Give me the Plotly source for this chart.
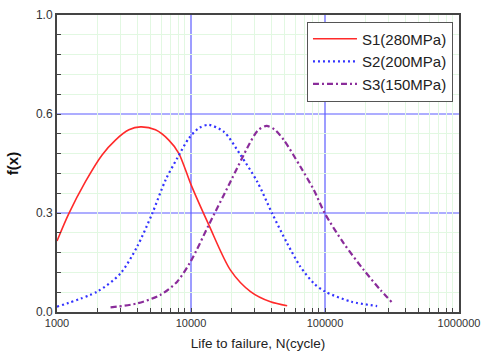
import plotly.graph_objects as go

# Fatigue life distributions at three stress levels
s1_cycles = [1000, 1225, 1630, 2170, 2730, 3440, 4200, 5430, 6830, 8110, 10000, 13580,
             19700, 27800, 39200, 52200]
s1_fx = [0.215, 0.298, 0.395, 0.476, 0.521, 0.552, 0.561, 0.552, 0.521, 0.481, 0.386, 0.264,
         0.127, 0.062, 0.031, 0.019]

s2_cycles = [1000, 2000, 2980, 3960, 5130, 6460, 7890, 9630, 11500, 13580, 17600, 23400, 31200,
             40400, 52200, 65600, 82500, 100000, 158000, 245000]
s2_fx = [0.016, 0.062, 0.117, 0.198, 0.298, 0.400, 0.466, 0.526, 0.558, 0.567, 0.546, 0.476, 0.395,
         0.298, 0.208, 0.137, 0.087, 0.062, 0.031, 0.018]

s3_cycles = [2510, 3960, 5920, 7890, 10000, 13580, 19700, 27000, 31500, 36600, 42000, 49300,
             65600, 82500, 100000, 138000, 195000, 259000, 316000]
s3_fx = [0.014, 0.026, 0.052, 0.092, 0.155, 0.264, 0.395, 0.506, 0.550, 0.564, 0.553, 0.521,
         0.440, 0.370, 0.298, 0.208, 0.127, 0.067, 0.029]

series_names = ["S1(280MPa)", "S2(200MPa)", "S3(150MPa)"]

x_tickvals = [1000, 10000, 100000, 1000000]
x_ticktext = ["1000", "10000", "100000", "1000000"]
y_tickvals = [0.0, 0.3, 0.6, 0.9]
y_ticktext = ["0.0", "0.3", "0.6", "1.0"]

x_minor = [m * 10 ** d for d in range(3, 6) for m in range(2, 10)]
y_minor = [round(0.06 * k, 2) for k in range(1, 15) if k % 5 != 0]

major_grid_color = "#5c5cff"

fig = go.Figure()
fig.add_trace(go.Scatter(x=s1_cycles, y=s1_fx, mode="lines", name=series_names[0],
                         line=dict(color="#ff2a2a", width=1.6, shape="spline", smoothing=0.8)))
fig.add_trace(go.Scatter(x=s2_cycles, y=s2_fx, mode="lines", name=series_names[1],
                         line=dict(color="#3333ff", width=2.2, dash="2px,3px", shape="spline", smoothing=0.8)))
fig.add_trace(go.Scatter(x=s3_cycles, y=s3_fx, mode="lines", name=series_names[2],
                         line=dict(color="#8a2c9a", width=2.2, dash="6px,3px,2px,3px", shape="spline", smoothing=0.8)))

# major grid lines at the inner tick positions, drawn beneath the curves
for xv in x_tickvals[1:-1]:
    fig.add_vline(x=xv, line=dict(color=major_grid_color, width=1.2), layer="below")
for yv in y_tickvals[1:-1]:
    fig.add_hline(y=yv, line=dict(color=major_grid_color, width=1.2), layer="below")

font_family = "Liberation Sans, Arial, sans-serif"

fig.update_layout(
    width=482, height=358,
    margin=dict(l=57, r=23, t=15, b=46),
    paper_bgcolor="white", plot_bgcolor="white",
    font=dict(family=font_family, color="#333333", size=11),
    showlegend=True,
    legend=dict(
        x=0.985, y=0.978, xanchor="right", yanchor="top",
        bgcolor="white", bordercolor="#555555", borderwidth=1,
        font=dict(size=15, color="#222222", family=font_family),
        itemwidth=44, tracegroupgap=0,
    ),
    xaxis=dict(
        type="log", range=[3, 6], automargin=False,
        tickvals=x_tickvals, ticktext=x_ticktext,
        ticks="inside", ticklen=4, tickcolor="#444444",
        showgrid=False,
        showline=True, mirror=True, linecolor="#444444", linewidth=2,
        zeroline=False,
        tickfont=dict(size=11, color="#333333"),
        title=dict(text="Life to failure, N(cycle)", standoff=10,
                   font=dict(size=13.5, color="#222222")),
        minor=dict(tickvals=x_minor, ticks="inside", ticklen=4, tickcolor="#444444",
                   showgrid=True, gridcolor="#e2f8e2", gridwidth=1),
    ),
    yaxis=dict(
        range=[0, 0.9], automargin=False,
        tickvals=y_tickvals, ticktext=y_ticktext,
        ticks="inside", ticklen=4, tickcolor="#444444",
        showgrid=False,
        showline=True, mirror=True, linecolor="#444444", linewidth=2,
        zeroline=False,
        tickfont=dict(size=12, color="#333333"),
        title=dict(text="<b>f(x)</b>", standoff=14,
                   font=dict(size=15, color="#111111")),
        minor=dict(tickvals=y_minor, ticks="inside", ticklen=4, tickcolor="#444444",
                   showgrid=True, gridcolor="#e2f8e2", gridwidth=1),
    ),
)

fig.write_html("out.html")
